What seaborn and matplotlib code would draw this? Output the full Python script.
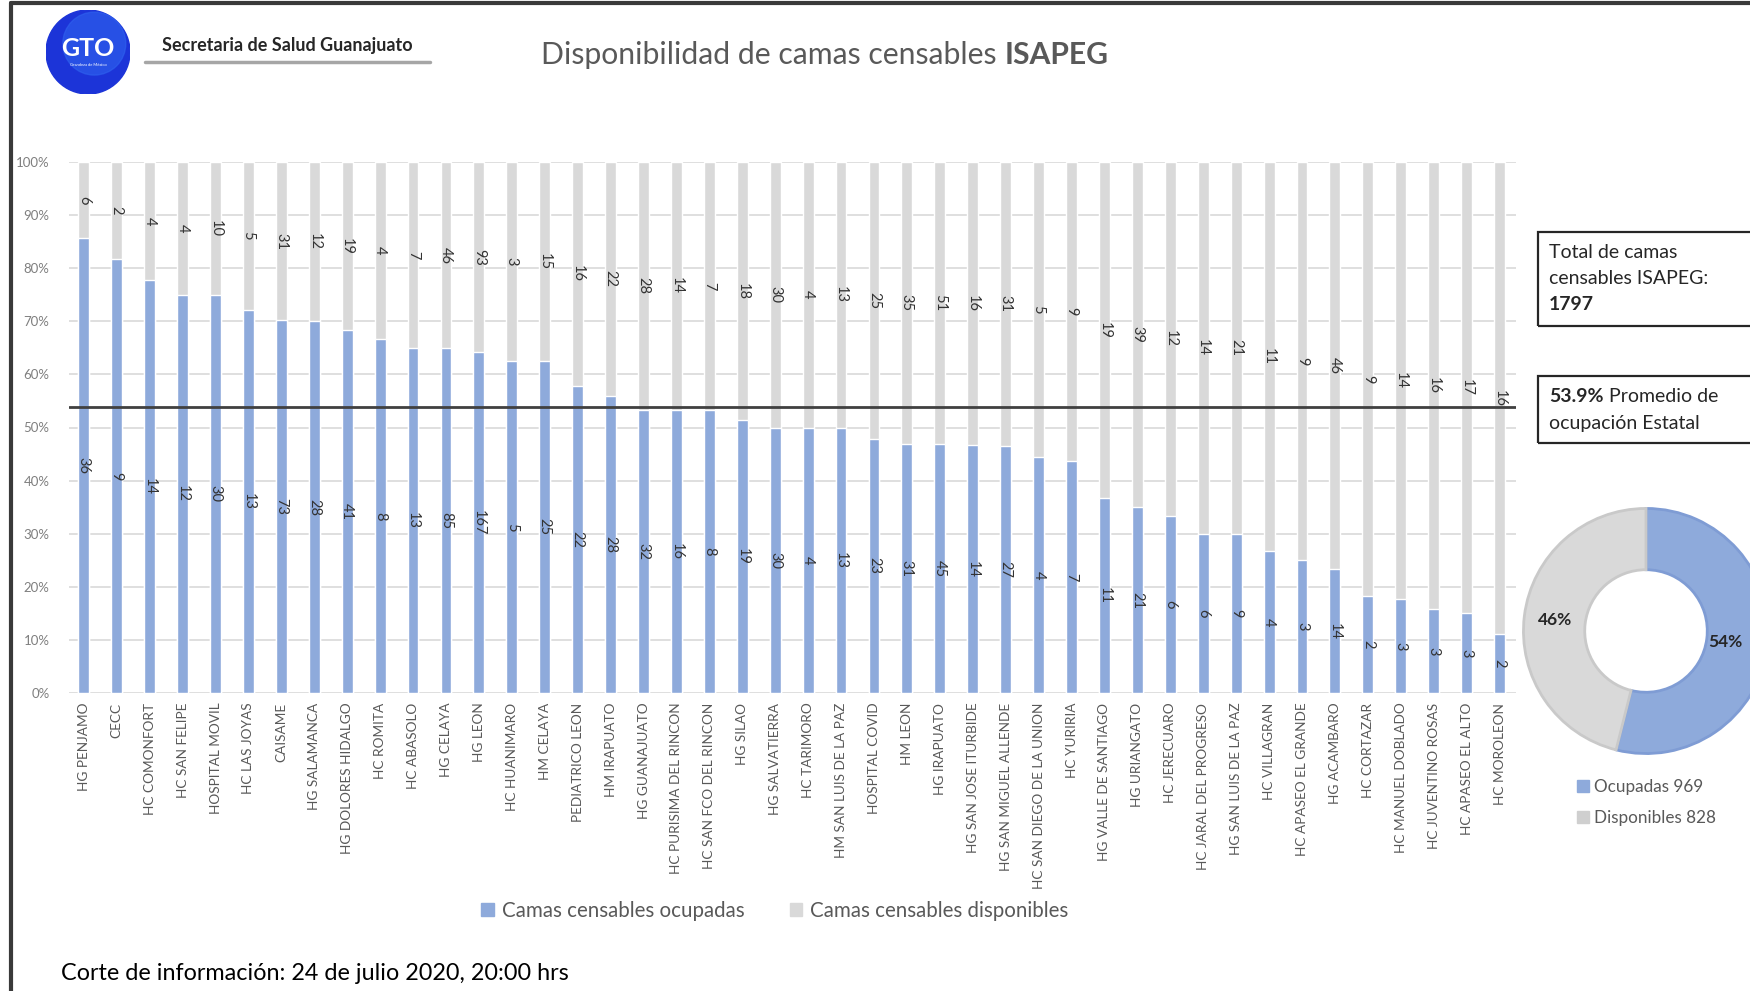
import numpy as np
import matplotlib.pyplot as plt
import seaborn as sns
import pandas as pd
from matplotlib.patches import Rectangle, Circle, Patch
from matplotlib.lines import Line2D
from matplotlib.ticker import PercentFormatter

hospitales = ['HG PENJAMO', 'CECC', 'HC COMONFORT', 'HC SAN FELIPE', 'HOSPITAL MOVIL',
              'HC LAS JOYAS', 'CAISAME', 'HG SALAMANCA', 'HG DOLORES HIDALGO', 'HC ROMITA',
              'HC ABASOLO', 'HG CELAYA', 'HG LEON', 'HC HUANIMARO', 'HM CELAYA',
              'PEDIATRICO LEON', 'HM IRAPUATO', 'HG GUANAJUATO', 'HC PURISIMA DEL RINCON',
              'HC SAN FCO DEL RINCON', 'HG SILAO', 'HG SALVATIERRA', 'HC TARIMORO',
              'HM SAN LUIS DE LA PAZ', 'HOSPITAL COVID', 'HM LEON', 'HG IRAPUATO',
              'HG SAN JOSE ITURBIDE', 'HG SAN MIGUEL ALLENDE', 'HC SAN DIEGO DE LA UNION',
              'HC YURIRIA', 'HG VALLE DE SANTIAGO', 'HG URIANGATO', 'HC JERECUARO',
              'HC JARAL DEL PROGRESO', 'HG SAN LUIS DE LA PAZ', 'HC VILLAGRAN',
              'HC APASEO EL GRANDE', 'HG ACAMBARO', 'HC CORTAZAR', 'HC MANUEL DOBLADO',
              'HC JUVENTINO ROSAS', 'HC APASEO EL ALTO', 'HC MOROLEON']
ocupadas = [36, 9, 14, 12, 30, 13, 73, 28, 41, 8, 13, 85, 167, 5, 25, 22, 28, 32, 16, 8, 19,
            30, 4, 13, 23, 31, 45, 14, 27, 4, 7, 11, 21, 6, 6, 9, 4, 3, 14, 2, 3, 3, 3, 2]
disponibles = [6, 2, 4, 4, 10, 5, 31, 12, 19, 4, 7, 46, 93, 3, 15, 16, 22, 28, 14, 7, 18,
               30, 4, 13, 25, 35, 51, 16, 31, 5, 9, 19, 39, 12, 14, 21, 11, 9, 46, 9, 14, 16, 17, 16]
total_camas = 1797
pie_labels = ['Ocupadas 969', 'Disponibles 828']
pie_values = [969, 828]

AZUL = '#8eaadb'
GRIS = '#d9d9d9'
TXT = '#595959'

df = pd.DataFrame({'Hospital': hospitales, 'Ocupadas': ocupadas, 'Disponibles': disponibles})
df['Total'] = df['Ocupadas'] + df['Disponibles']
df['pct_ocup'] = df['Ocupadas'] / df['Total']
df['pct_total'] = df['Total'] / df['Total']
promedio = sum(ocupadas) / (sum(ocupadas) + sum(disponibles))

sns.set_theme(style='white')
plt.rcParams['font.family'] = ['Lato', 'DejaVu Sans']

W, H = 1750, 991
fig = plt.figure(figsize=(W / 100, H / 100), dpi=100)
fig.patch.set_facecolor('white')

def fx(px):
    return px / W

def fy(py):
    return 1 - py / H

ax = fig.add_axes([fx(69), fy(693), fx(1516 - 69), (693 - 162) / H])
sns.barplot(data=df, x='Hospital', y='pct_total', color=GRIS, width=0.33, saturation=1,
            errorbar=None, ax=ax, zorder=2)
sns.barplot(data=df, x='Hospital', y='pct_ocup', color=AZUL, width=0.33, saturation=1,
            errorbar=None, ax=ax, zorder=3)

for i, row in df.iterrows():
    ax.text(i, row['pct_ocup'] / 2, str(row['Ocupadas']), rotation=-90, ha='center',
            va='center', fontsize=10.5, color='#333333', zorder=5)
    ax.text(i, (1 + row['pct_ocup']) / 2, str(row['Disponibles']), rotation=-90, ha='center',
            va='center', fontsize=10.5, color='#333333', zorder=5)

ax.axhline(promedio, color='#404040', lw=2, zorder=4)

ax.set_ylim(0, 1)
ax.set_xlim(-0.45, len(hospitales) - 0.5)
ax.set_yticks(np.arange(0, 1.01, 0.1))
ax.yaxis.set_major_formatter(PercentFormatter(1.0, decimals=0))
ax.yaxis.grid(True, color='#d9d9d9', lw=1.2)
ax.set_axisbelow(True)
for s in ax.spines.values():
    s.set_visible(False)
ax.set_xlabel('')
ax.set_ylabel('')
ax.tick_params(axis='y', length=0, pad=14, labelsize=9.5, labelcolor='#7f7f7f')
ax.tick_params(axis='x', length=0, pad=7, labelsize=9.8, labelcolor=TXT)
plt.setp(ax.get_xticklabels(), rotation=90, ha='center', va='top')

# leyenda principal
h = [Patch(color=AZUL), Patch(color=GRIS)]
fig.legend(h, ['Camas censables ocupadas', 'Camas censables disponibles'], loc='center',
           bbox_to_anchor=(fx(775), fy(911)), ncol=2, frameon=False, fontsize=14.8,
           handlelength=0.6, handleheight=0.6, handletextpad=0.4, columnspacing=2.2,
           labelcolor=TXT)

# dona
pax = fig.add_axes([fx(1646 - 125), fy(631 + 125), fx(250), 250 / H])
wedges, texts, autotexts = pax.pie(pie_values, colors=[AZUL, GRIS], startangle=90,
                                   counterclock=False, autopct='%1.0f%%', pctdistance=0.75,
                                   wedgeprops=dict(width=0.5, linewidth=2),
                                   textprops=dict(fontsize=12.5, fontweight='bold', color='#262626'))
wedges[0].set_edgecolor('#7f9cd4')
wedges[1].set_edgecolor('#c9c9c9')
# el 54% queda al borde de la figura: lo acerco un poco para que no se corte
x54, y54 = autotexts[0].get_position()
autotexts[0].set_position((x54 - 0.1, y54))
pax.set_aspect('equal')
pax.set_xlim(-1.02, 1.02)
pax.set_ylim(-1.02, 1.02)
fig.legend([Patch(color=AZUL), Patch(color='#cfcfcf')], pie_labels, loc='upper left',
           bbox_to_anchor=(fx(1562), fy(764)), frameon=False, fontsize=12.3,
           handlelength=0.7, handleheight=0.7, handletextpad=0.3, labelspacing=0.85,
           labelcolor=TXT)

# cuadros de texto
fig.add_artist(Rectangle((fx(1538), fy(326)), 0.3, (326 - 232) / H, transform=fig.transFigure,
                         fill=False, ec='#262626', lw=1.6))
fig.add_artist(Rectangle((fx(1538), fy(443)), 0.3, (443 - 376) / H, transform=fig.transFigure,
                         fill=False, ec='#262626', lw=1.6))
fig.text(fx(1549), fy(252), 'Total de camas', fontsize=14, color='#262626', va='center')
fig.text(fx(1549), fy(279), 'censables ISAPEG:', fontsize=14, color='#262626', va='center')
fig.text(fx(1549), fy(305), str(total_camas), fontsize=14, color='#262626', va='center',
         fontweight='bold')
t1 = fig.text(fx(1549), fy(396), '{:.1f}%'.format(promedio * 100), fontsize=14,
              color='#262626', va='center', fontweight='bold')
ax.annotate(' Promedio de', xy=(1, 0.5), xycoords=t1, fontsize=14, color='#262626',
            va='center', ha='left', annotation_clip=False)
fig.text(fx(1549), fy(423), 'ocupación Estatal', fontsize=14, color='#262626', va='center')

# encabezado
lax = fig.add_axes([fx(88 - 42), fy(52 + 42), fx(84), 84 / H])
lax.add_patch(Circle((0, 0), 1, color='#1c34d8'))
lax.add_patch(Circle((0.15, 0.2), 0.75, color='#2f63ef', alpha=0.6))
lax.text(0, 0.08, 'GTO', color='white', fontsize=18, fontweight='bold', ha='center', va='center')
lax.text(0, -0.3, 'Grandeza de México', color='white', fontsize=3, ha='center', va='center')
lax.set_xlim(-1, 1)
lax.set_ylim(-1, 1)
lax.set_aspect('equal')
lax.axis('off')

fig.text(fx(162), fy(45), 'Secretaria de Salud Guanajuato', fontsize=13, fontweight='bold',
         color='#262626', va='center', ha='left')
fig.add_artist(Line2D([fx(145), fx(430)], [fy(62), fy(62)], transform=fig.transFigure,
                      color='#a6a6a6', lw=2.5))

t = fig.text(fx(541), fy(55), 'Disponibilidad de camas censables ', fontsize=21.7, color=TXT,
             va='center', ha='left')
ax.annotate('ISAPEG', xy=(1, 0.5), xycoords=t, fontsize=21.7, fontweight='bold', color=TXT,
            va='center', ha='left', annotation_clip=False)

fig.text(fx(61), fy(973), 'Corte de información: 24 de julio 2020, 20:00 hrs', fontsize=16.8,
         color='#000000', va='center', ha='left')

# marco
fig.add_artist(Line2D([fx(11), fx(11)], [0, fy(3)], transform=fig.transFigure,
                      color='#3a3a3a', lw=3))
fig.add_artist(Line2D([fx(11), 1], [fy(3), fy(3)], transform=fig.transFigure,
                      color='#3a3a3a', lw=3))

fig.savefig('out.png', dpi=100)
